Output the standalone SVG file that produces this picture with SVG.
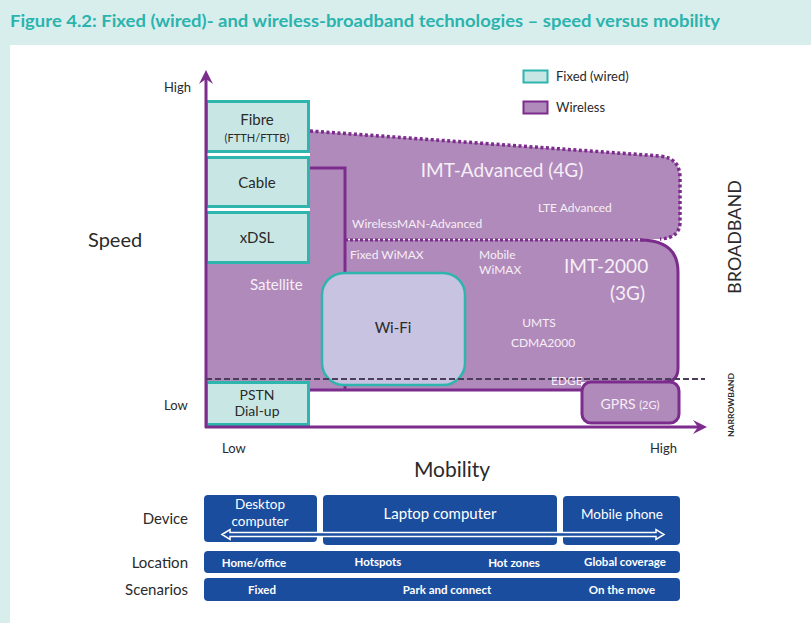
<svg xmlns="http://www.w3.org/2000/svg" width="811" height="623" viewBox="0 0 811 623">
  <style>
    text { font-family: Lato, "Liberation Sans", sans-serif; }
    .dark { fill: #2a2a2a; }
    .lt { fill: #f7eff8; }
    .wt { fill: #ffffff; }
    .mid { text-anchor: middle; }
    .end { text-anchor: end; }
    .fixed { fill: #c8e7e4; stroke: #2db5ae; stroke-width: 3; }
    .wl { fill: #b08aba; }
    .edge { fill: none; stroke: #7b2c8c; stroke-width: 3; }
    .blue { fill: #1a4d9e; }
    .s12 { font-size: 12px; }
    .s15 { font-size: 15px; }
  </style>

  <!-- page background and title band -->
  <rect x="0" y="0" width="811" height="623" fill="#d8eeec"/>
  <rect x="10" y="45" width="801" height="578" fill="#ffffff"/>
  <text x="10" y="27" font-size="17" font-weight="bold" fill="#2bb3ad" textLength="710" lengthAdjust="spacingAndGlyphs">Figure 4.2: Fixed (wired)- and wireless-broadband technologies – speed versus mobility</text>

  <!-- wireless areas -->
  <g id="imt-advanced">
    <path class="wl" d="M310,131 L660,156 Q680,158 680,178 V222 Q680,238 660,239 H345 V168 H310 Z"/>
    <path d="M310,131 L660,156 Q680,158 680,178 V222 Q680,238 660,239" fill="none" stroke="#7b2c8c" stroke-width="3.5" stroke-dasharray="3 2.5"/>
    <text x="502" y="177" class="lt mid" font-size="19">IMT-Advanced (4G)</text>
    <text x="538" y="212" class="lt s12">LTE Advanced</text>
    <text x="352" y="228" class="lt s12">WirelessMAN-Advanced</text>
  </g>

  <g id="satellite">
    <path class="wl" d="M206,263 H310 V168 H345 V390 H206 Z"/>
    <text x="250" y="290" class="lt s15">Satellite</text>
  </g>

  <g id="imt-2000">
    <path class="wl" d="M345,240 H645 Q678,240 678,272 V368 Q678,382 664,382 H581 V390 H345 Z"/>
    <path d="M345,240 H645" fill="none" stroke="#7b2c8c" stroke-width="3" stroke-dasharray="3 2"/>
    <path class="edge" d="M640,240 Q678,240 678,272 V368 Q678,382 664,382"/>
    <text x="350" y="259" class="lt s12">Fixed WiMAX</text>
    <text x="479" y="259" class="lt s12">Mobile</text>
    <text x="479" y="274" class="lt s12">WiMAX</text>
    <text x="564" y="273" class="lt" font-size="19">IMT-2000</text>
    <text x="645" y="300" class="lt end" font-size="19">(3G)</text>
    <text x="539" y="327" class="lt mid s12">UMTS</text>
    <text x="543" y="347" class="lt mid s12">CDMA2000</text>
  </g>

  <!-- outline of the wireless zone -->
  <g id="wireless-outline">
    <path class="edge" d="M310,168 H345 V390"/>
    <path class="edge" d="M206,390 H583"/>
  </g>

  <g id="wifi">
    <rect x="322" y="273" width="143" height="112" rx="22" fill="#c7c3e1" stroke="#2db5ae" stroke-width="2.5"/>
    <text x="393" y="333" class="dark mid s15">Wi-Fi</text>
  </g>

  <g id="gprs">
    <rect x="582" y="382" width="97" height="41" rx="9" class="wl" stroke="#7b2c8c" stroke-width="3"/>
    <text x="630" y="409" class="lt mid"><tspan font-size="14">GPRS </tspan><tspan font-size="11">(2G)</tspan></text>
  </g>

  <!-- fixed (wired) technologies -->
  <g id="fibre">
    <rect x="206.5" y="101.5" width="102" height="50" class="fixed"/>
    <text x="257" y="125" class="dark mid s15">Fibre</text>
    <text x="257" y="142" class="dark mid" font-size="11">(FTTH/FTTB)</text>
  </g>
  <g id="cable">
    <rect x="206.5" y="157.5" width="102" height="49" class="fixed"/>
    <text x="257" y="188" class="dark mid s15">Cable</text>
  </g>
  <g id="xdsl">
    <rect x="206.5" y="212.5" width="102" height="50" class="fixed"/>
    <text x="257" y="243" class="dark mid s15">xDSL</text>
  </g>
  <g id="pstn">
    <rect x="206.5" y="382.5" width="102" height="42" class="fixed"/>
    <text x="257" y="400" class="dark mid" font-size="14">PSTN</text>
    <text x="257" y="416" class="dark mid" font-size="14">Dial-up</text>
  </g>

  <!-- axes and the broadband / narrowband boundary -->
  <g id="connectors">
    <line x1="206" y1="79" x2="206" y2="428" stroke="#7b2c8c" stroke-width="3"/>
    <polygon points="206,70 199,84 206,79 213,84" fill="#7b2c8c"/>
    <line x1="205" y1="427" x2="700" y2="427" stroke="#7b2c8c" stroke-width="3"/>
    <polygon points="707,427 693,420 698,427 693,434" fill="#7b2c8c"/>
    <line x1="206" y1="379" x2="705" y2="379" stroke="#4d3d5c" stroke-width="2" stroke-dasharray="6 3"/>
  </g>
  <text x="551" y="385" class="lt s12">EDGE</text>

  <!-- axis labels -->
  <g id="axis-labels">
    <text x="164" y="92" class="dark" font-size="13">High</text>
    <text x="164" y="410" class="dark" font-size="13">Low</text>
    <text x="88" y="247" class="dark" font-size="20">Speed</text>
    <text x="222" y="453" class="dark" font-size="13">Low</text>
    <text x="650" y="453" class="dark" font-size="13">High</text>
    <text x="452" y="477" class="dark mid" font-size="21">Mobility</text>
    <text transform="translate(741,237) rotate(-90)" class="dark mid" font-size="18">BROADBAND</text>
    <text transform="translate(734,405) rotate(-90)" class="dark mid" font-size="8" font-weight="bold" textLength="64" lengthAdjust="spacingAndGlyphs">NARROWBAND</text>
  </g>

  <!-- legend -->
  <g id="legend">
    <rect x="523.5" y="70.5" width="24" height="12" fill="#c8e7e4" stroke="#2db5ae" stroke-width="2"/>
    <text x="556" y="81" class="dark" font-size="13">Fixed (wired)</text>
    <rect x="523.5" y="101.5" width="24" height="12" fill="#b08aba" stroke="#7b2c8c" stroke-width="2"/>
    <text x="556" y="112" class="dark" font-size="13">Wireless</text>
  </g>

  <!-- device / location / scenario table -->
  <g id="row-labels">
    <text x="188" y="524" class="dark end s15">Device</text>
    <text x="188" y="568" class="dark end s15">Location</text>
    <text x="188" y="595" class="dark end s15">Scenarios</text>
  </g>
  <g id="device-desktop">
    <rect x="204" y="495" width="113" height="47" rx="4" class="blue"/>
    <text x="260" y="509" class="wt mid" font-size="13.5">Desktop</text>
    <text x="260" y="526" class="wt mid" font-size="13.5">computer</text>
  </g>
  <g id="device-laptop">
    <rect x="323" y="495" width="234" height="50" rx="4" class="blue"/>
    <text x="440" y="519" class="wt mid s15">Laptop computer</text>
  </g>
  <g id="device-mobile">
    <rect x="563" y="496" width="117" height="49" rx="4" class="blue"/>
    <text x="622" y="519" class="wt mid" font-size="13.5">Mobile phone</text>
  </g>
  <g id="mobility-arrow">
    <path d="M222,534.5 L230,529.5 V532.5 H656 V529.5 L664,534.5 L656,539.5 V536.5 H230 V539.5 Z" fill="#1a4d9e" stroke="#ffffff" stroke-width="1.5" stroke-linejoin="miter"/>
  </g>
  <g id="location">
    <rect x="204" y="551" width="476" height="22" rx="4" class="blue"/>
    <text x="254" y="567" class="wt mid" font-size="11.5" font-weight="bold">Home/office</text>
    <text x="378" y="566" class="wt mid" font-size="11.5" font-weight="bold">Hotspots</text>
    <text x="514" y="567" class="wt mid" font-size="11.5" font-weight="bold">Hot zones</text>
    <text x="625" y="566" class="wt mid" font-size="11.5" font-weight="bold">Global coverage</text>
  </g>
  <g id="scenarios">
    <rect x="204" y="578" width="476" height="23" rx="4" class="blue"/>
    <text x="262" y="594" class="wt mid" font-size="11.5" font-weight="bold">Fixed</text>
    <text x="447" y="594" class="wt mid" font-size="11.5" font-weight="bold">Park and connect</text>
    <text x="622" y="594" class="wt mid" font-size="11.5" font-weight="bold">On the move</text>
  </g>
</svg>
